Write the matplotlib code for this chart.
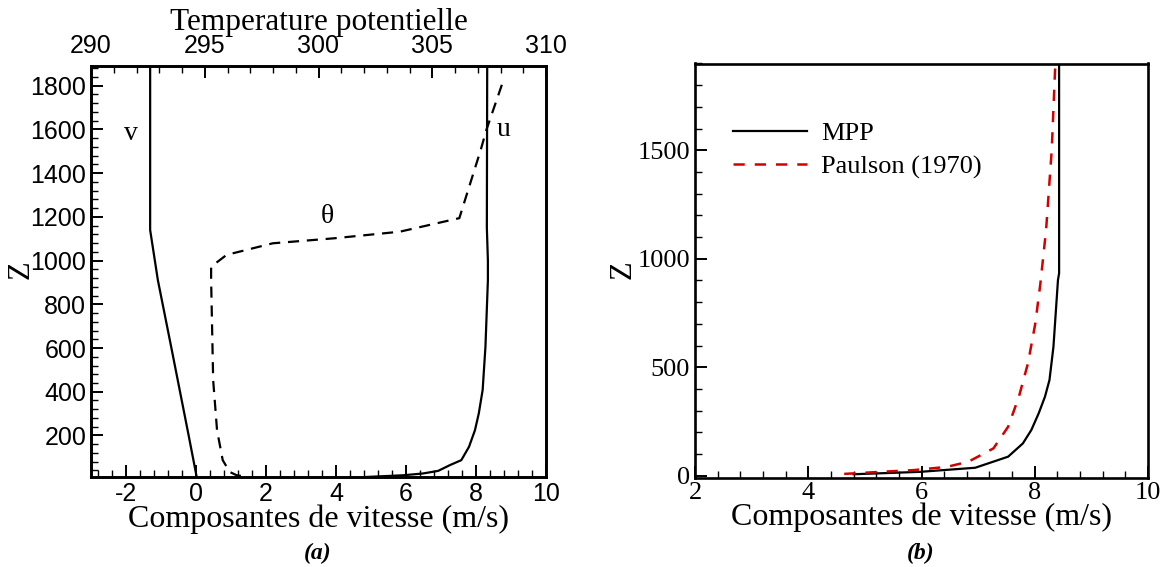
import numpy as np
import matplotlib
matplotlib.use("Agg")
import matplotlib.pyplot as plt
from matplotlib.ticker import MultipleLocator

plt.rcParams["font.family"] = ["Liberation Serif", "DejaVu Serif"]
plt.rcParams["axes.unicode_minus"] = False

# (a) profils de vitesse et de temperature potentielle
v_z = [10, 200, 606, 911, 1140, 1890]
v_val = [0.02, -0.21, -0.71, -1.09, -1.31, -1.31]

u_z = [1890, 1150, 1000, 911, 606, 408, 301, 224, 148, 87, 64, 38, 26, 18, 10]
u_val = [8.32, 8.31, 8.34, 8.34, 8.27, 8.19, 8.08, 7.97, 7.80, 7.58, 7.25, 6.92, 6.48, 5.93, 4.85]

th_z = [1804, 1598, 1506, 1194, 1132, 1102, 1079, 1026, 972, 911, 453, 224, 87, 33, 18, 10]
th_val = [308.06, 307.38, 307.13, 306.19, 303.57, 300.7, 297.99, 295.96, 295.28,
          295.28, 295.37, 295.54, 295.79, 296.1, 296.4, 296.9]

# (b) comparaison MPP / Paulson
mpp_z = [1900, 933, 902, 748, 594, 441, 364, 288, 211, 149, 88, 37, 18, 7]
mpp_u = [8.43, 8.43, 8.41, 8.37, 8.33, 8.26, 8.18, 8.07, 7.94, 7.79, 7.53, 6.95, 5.97, 4.80]

pau_z = [1877, 1501, 1132, 887, 702, 518, 364, 226, 126, 65, 41, 26, 18, 6.5]
pau_u = [8.36, 8.30, 8.20, 8.10, 8.01, 7.88, 7.72, 7.53, 7.27, 6.83, 6.45, 5.86, 5.27, 4.50]

W, H = 1165, 567
fig = plt.figure(figsize=(W / 100, H / 100), dpi=100)

sans = "Liberation Sans"


def style_axis(ax, lw=1.9):
    for s in ax.spines.values():
        s.set_linewidth(lw)
    ax.tick_params(which="major", direction="in", length=8.5, width=1.4)
    ax.tick_params(which="minor", direction="in", length=5, width=1.0)


# ---------- (a) ----------
ax1 = fig.add_axes([91 / W, 1 - 477 / H, 455 / W, 411 / H])
ax1.plot(v_val, v_z, "k-", lw=1.6)
ax1.plot(u_val, u_z, "k-", lw=1.6)
ax1.set_xlim(-3, 10)
ax1.set_ylim(10, 1890)
ax1.set_xticks([-2, 0, 2, 4, 6, 8, 10])
ax1.xaxis.set_minor_locator(MultipleLocator(0.4))
ax1.set_yticks(np.arange(200, 1801, 200))
ax1.yaxis.set_minor_locator(MultipleLocator(40))
style_axis(ax1)
ax1.tick_params(axis="both", which="both", top=False, right=False)
for lab in ax1.get_xticklabels() + ax1.get_yticklabels():
    lab.set_family(sans)
    lab.set_fontsize(18)
ax1.set_xlabel("Composantes de vitesse (m/s)", fontsize=23, labelpad=-1)

ax1t = ax1.twiny()
ax1t.plot(th_val, th_z, "k-", lw=1.6, dashes=(5, 3.5))
ax1t.set_xlim(290, 310)
ax1t.set_xticks([290, 295, 300, 305, 310])
ax1t.xaxis.set_minor_locator(MultipleLocator(1))
style_axis(ax1t)
ax1t.tick_params(axis="x", which="both", top=True, bottom=False, pad=6)
for lab in ax1t.get_xticklabels():
    lab.set_family(sans)
    lab.set_fontsize(18)
ax1t.set_xlabel("Temperature potentielle", fontsize=22.5, labelpad=3)

ax1.text(-1.86, 1583, "v", fontsize=20, ha="center", va="center")
ax1.text(8.79, 1598, "u", fontsize=20, ha="center", va="center")
ax1.text(3.74, 1201, "θ", fontsize=20, ha="center", va="center")

fig.text(21 / W, 1 - 270 / H, "Z", fontsize=22, rotation=90, ha="center", va="center")
fig.text(318 / W, 1 - 553 / H, "(a)", fontsize=17, fontweight="bold", style="italic",
         ha="center", va="center")

# ---------- (b) ----------
ax2 = fig.add_axes([695 / W, 1 - 477.5 / H, 453 / W, 414 / H])
ax2.plot(mpp_u, mpp_z, "k-", lw=1.6, label="MPP")
ax2.plot(pau_u, pau_z, color="#d40000", lw=1.8, dashes=(4.5, 4), label="Paulson (1970)")
ax2.set_xlim(2, 10)
ax2.set_ylim(-8, 1900)
ax2.set_xticks([2, 4, 6, 8, 10])
ax2.xaxis.set_minor_locator(MultipleLocator(0.4))
ax2.set_yticks([0, 500, 1000, 1500])
ax2.yaxis.set_minor_locator(MultipleLocator(100))
style_axis(ax2)
ax2.tick_params(axis="both", which="both", top=False, right=False, labelsize=19)
ax2.set_xlabel("Composantes de vitesse (m/s)", fontsize=23, labelpad=-1)
ax2.legend(loc="upper left", bbox_to_anchor=((733 - 695) / 453, (477.5 - 122) / 414),
           frameon=False, fontsize=19, handlelength=2.8, handletextpad=0.55,
           borderpad=0, borderaxespad=0, labelspacing=0.35)

fig.text(623 / W, 1 - 270 / H, "Z", fontsize=22, rotation=90, ha="center", va="center")
fig.text(921 / W, 1 - 553 / H, "(b)", fontsize=17, fontweight="bold", style="italic",
         ha="center", va="center")

fig.savefig("out.png", dpi=100)
